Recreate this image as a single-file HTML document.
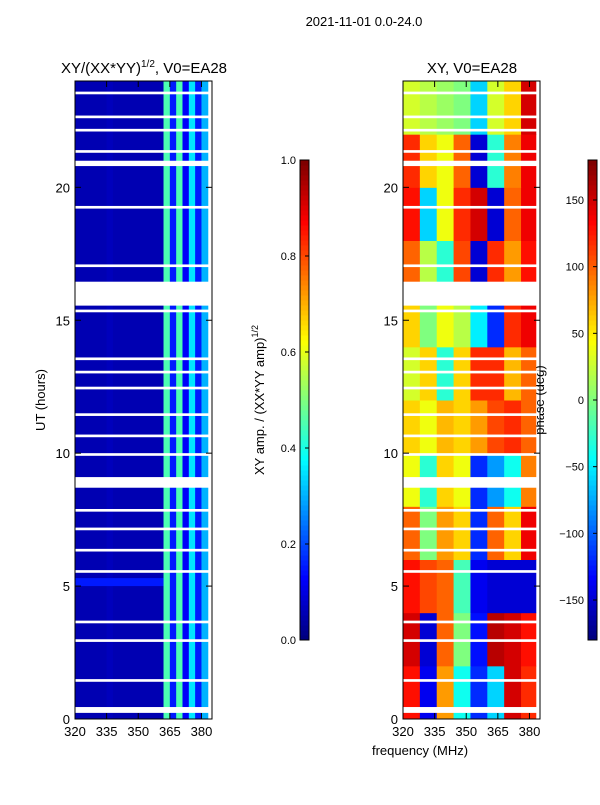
<!DOCTYPE html>
<html><head><meta charset="utf-8"><style>
body{margin:0;background:#fff;}
svg text{font-family:"Liberation Sans",sans-serif;font-size:13px;fill:#000;}
</style></head><body>
<svg id="c" width="600" height="800" xmlns="http://www.w3.org/2000/svg">
<text x="364" y="26" text-anchor="middle">2021-11-01 0.0-24.0</text>
<text x="144" y="73" text-anchor="middle" font-size="15" style="font-size:15px">XY/(XX*YY)<tspan dy="-6" style="font-size:10px">1/2</tspan><tspan dy="6">, V0=EA28</tspan></text>
<text x="472" y="73" text-anchor="middle" style="font-size:15px">XY, V0=EA28</text>
<text transform="translate(45,400) rotate(-90)" text-anchor="middle">UT (hours)</text>
<text x="420" y="755" text-anchor="middle">frequency (MHz)</text>
<text transform="translate(264,400) rotate(-90)" text-anchor="middle">XY amp. / (XX*YY amp)<tspan dy="-6" style="font-size:9px">1/2</tspan></text>
<text transform="translate(544,400) rotate(-90)" text-anchor="middle">phase (deg)</text>
<g id="L"></g><g id="R"></g><g id="CB"></g>
</svg>
<script>
const NS="http://www.w3.org/2000/svg";
const svg=document.getElementById('c');
const xTicks=[320,335,350,365,380];
const yTicks=[0,5,10,15,20];
const ampBinEdges=[320,323,326,329,332,335,338,341,344,347,350,353,356,359,362,365,368,371,374,377,380,383];
const ampValues=[0.05,0.05,0.05,0.05,0.05,0.06,0.05,0.05,0.05,0.05,0.05,0.05,0.05,0.05,0.45,0.15,0.45,0.12,0.35,0.15,0.3];
const phaseHours=[0,2,4,6,8,10,12,14,16,18,20,22,24];
const phaseFreqEdges=[320,328,336,344,352,360,368,376,383];
const phaseValues=[
[130,-140,80,-40,-120,-60,150,120],
[150,-150,100,0,-130,160,150,130],
[130,110,100,-20,-140,-150,-150,-150],
[100,0,80,60,-120,100,60,140],
[40,-30,60,40,-120,-80,-40,90],
[60,40,70,60,80,110,120,100],
[30,60,-30,60,120,120,70,100],
[60,0,40,20,-50,-120,120,140],
[100,20,-30,110,-150,120,80,130],
[130,-60,40,120,150,-150,100,140],
[120,60,40,100,-150,-30,90,140],
[30,20,10,0,-60,30,60,150]];
const flags=[[0.23,0.45],[1.4,1.5],[2.9,3.0],[3.6,3.7],[5.5,5.6],[6.3,6.4],[7.1,7.2],[7.8,7.9],[8.7,9.1],[9.9,10.0],[10.6,10.7],[11.4,11.5],[12.4,12.5],[13.0,13.1],[13.5,13.6],[15.3,15.4],[15.55,16.45],[17.0,17.1],[19.2,19.3],[20.8,21.0],[21.3,21.4],[22.1,22.2],[22.6,22.7],[23.5,23.6]];
const cbTicksAmp=[0,0.2,0.4,0.6,0.8,1.0];
const cbTicksPh=[-150,-100,-50,0,50,100,150];
function jet(v){v=Math.max(0,Math.min(1,v));const r=Math.max(0,Math.min(1,1.5-Math.abs(4*v-3))),g=Math.max(0,Math.min(1,1.5-Math.abs(4*v-2))),b=Math.max(0,Math.min(1,1.5-Math.abs(4*v-1)));return `rgb(${r*255|0},${g*255|0},${b*255|0})`;}
function el(t,a,p){const e=document.createElementNS(NS,t);for(const k in a)e.setAttribute(k,a[k]);(p||svg).appendChild(e);return e;}
const Y=h=>719-h*(638/24);
function panel(x0,g){
  const X=f=>x0+(f-320)*(137/65);
  return X;
}
const gL=document.getElementById('L'),gR=document.getElementById('R'),gC=document.getElementById('CB');
const XL=panel(75),XR=panel(403);
// left heatmap
for(let i=0;i<ampValues.length;i++){
  const r=el('rect',{x:XL(ampBinEdges[i]),y:Y(24),width:XL(ampBinEdges[i+1])-XL(ampBinEdges[i])+0.5,height:Y(0)-Y(24),fill:jet(ampValues[i])},gL);
  
  
}
const band=el('rect',{x:XL(320),y:Y(5.3),width:XL(362)-XL(320),height:Y(5.0)-Y(5.3),fill:jet(0.15)},gL);


// right heatmap
for(let r=0;r<phaseValues.length;r++)for(let c=0;c<phaseValues[r].length;c++){
  const e=el('rect',{x:XR(phaseFreqEdges[c]),y:Y(phaseHours[r+1]),width:XR(phaseFreqEdges[c+1])-XR(phaseFreqEdges[c])+0.5,height:Y(phaseHours[r])-Y(phaseHours[r+1])+0.5,fill:jet((phaseValues[r][c]+180)/360)},gR);
  
  
}
// flags and axes
[[XL,gL,75],[XR,gR,403]].forEach(([X,g,x0])=>{
  flags.forEach(f=>{const e=el('rect',{x:x0,y:Y(f[1]),width:137,height:Y(f[0])-Y(f[1]),fill:'#fff'},g);
    
    });
  const fr=el('rect',{x:x0,y:81,width:137,height:638,fill:'none',stroke:'#000','stroke-width':1},g);
  
  
  xTicks.forEach(t=>{el('line',{x1:X(t),x2:X(t),y1:719,y2:713,stroke:'#000'},g);el('line',{x1:X(t),x2:X(t),y1:81,y2:87,stroke:'#000'},g);
    const tx=el('text',{x:X(t),y:736,'text-anchor':'middle'},g);tx.textContent=t;
    
    });
  yTicks.forEach(t=>{el('line',{x1:x0,x2:x0+6,y1:Y(t),y2:Y(t),stroke:'#000'},g);el('line',{x1:x0+131,x2:x0+137,y1:Y(t),y2:Y(t),stroke:'#000'},g);
    const tx=el('text',{x:x0-5,y:Y(t)+5,'text-anchor':'end'},g);tx.textContent=t;
    
    });
});
// colorbars
function cbar(x,ticks,lo,hi,fmt,name){
  for(let i=0;i<96;i++){el('rect',{x:x,y:640-(i+1)*5,width:9,height:5.5,fill:jet(i/95)},gC);}
  const f=el('rect',{x:x,y:160,width:9,height:480,fill:'none',stroke:'#000'},gC);
  
  
  ticks.forEach(t=>{const y=640-(t-lo)/(hi-lo)*480;el('line',{x1:x+5,x2:x+9,y1:y,y2:y,stroke:'#000'},gC);
    const tx=el('text',{x:x-4,y:y+4,'text-anchor':'end',style:'font-size:11px'},gC);tx.textContent=fmt(t);
    
    });
}
cbar(300,cbTicksAmp,0,1,t=>t.toFixed(1),'colorbar-amp');
cbar(588,cbTicksPh,-180,180,t=>t<0?'\u2212'+(-t):''+t,'colorbar-phase');
</script>
</body></html>
